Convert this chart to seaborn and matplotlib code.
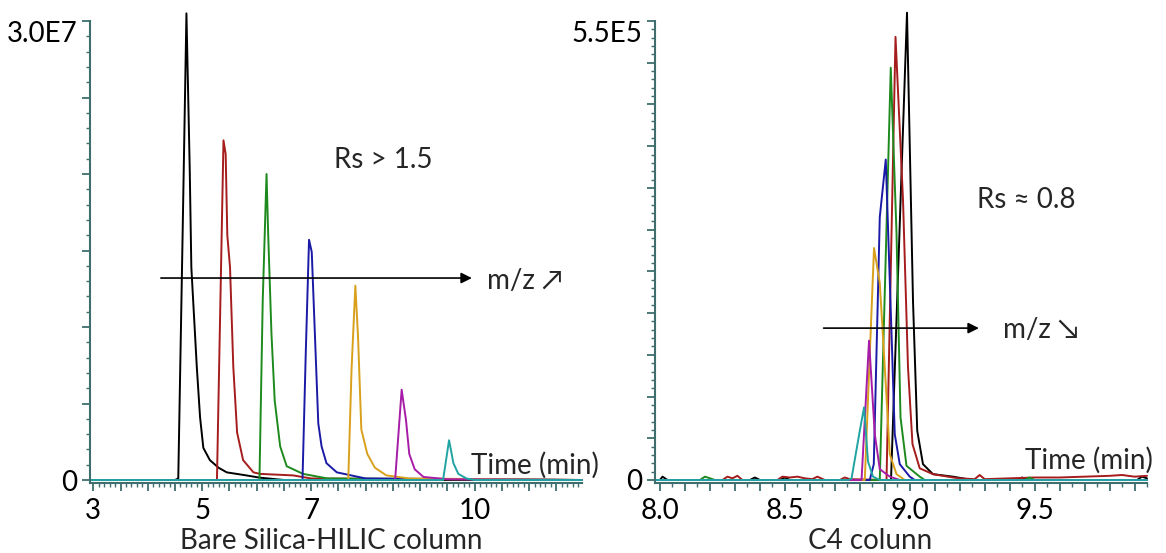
import matplotlib
matplotlib.use('Agg')
import matplotlib.pyplot as plt
import matplotlib.ticker as mticker
import pandas as pd
import seaborn as sns

# left panel: bare silica HILIC, intensity in units of 1E7
hilic_black_t = [2.94, 4.50, 4.56, 4.64, 4.71, 4.77, 4.80, 4.90, 4.96, 5.02, 5.14, 5.30, 5.45, 5.81, 6.06, 6.50, 11.97]
hilic_black_i = [0, 0, 0.01, 1.61, 3.05, 2.04, 1.39, 0.74, 0.41, 0.21, 0.13, 0.08, 0.05, 0.03, 0.015, 0, 0]
hilic_red_t = [2.94, 5.27, 5.39, 5.43, 5.46, 5.51, 5.57, 5.64, 5.75, 5.94, 6.06, 6.67, 7.0, 11.97]
hilic_red_i = [0, 0, 2.22, 2.13, 1.6, 1.39, 0.74, 0.31, 0.13, 0.05, 0.04, 0.03, 0.01, 0]
hilic_green_t = [2.94, 6.05, 6.11, 6.18, 6.21, 6.27, 6.33, 6.43, 6.55, 6.85, 7.3, 11.97]
hilic_green_i = [0, 0, 1.17, 2.0, 1.61, 0.96, 0.52, 0.22, 0.09, 0.04, 0.01, 0]
hilic_blue_t = [2.94, 6.84, 6.90, 6.96, 7.01, 7.07, 7.13, 7.19, 7.28, 7.47, 8.0, 11.97]
hilic_blue_i = [0, 0, 0.83, 1.57, 1.49, 0.93, 0.37, 0.22, 0.11, 0.05, 0.01, 0]
hilic_orange_t = [2.94, 7.68, 7.74, 7.81, 7.86, 7.92, 8.03, 8.17, 8.38, 8.8, 11.97]
hilic_orange_i = [0, 0, 0.72, 1.27, 0.93, 0.33, 0.17, 0.08, 0.03, 0.01, 0]
hilic_magenta_t = [2.94, 8.54, 8.66, 8.74, 8.80, 8.90, 9.06, 9.5, 11.97]
hilic_magenta_i = [0, 0, 0.59, 0.39, 0.17, 0.07, 0.02, 0.005, 0]
hilic_teal_t = [2.94, 9.42, 9.53, 9.61, 9.70, 9.85, 10.0, 11.97]
hilic_teal_i = [0, 0, 0.26, 0.11, 0.04, 0.01, 0, 0]

# right panel: C4 column, intensity in units of 1E5
c4_black_t = [7.98, 8.00, 8.01, 8.03, 8.36, 8.38, 8.40, 8.48, 8.50, 8.52, 8.925, 8.989, 9.013, 9.030, 9.053, 9.093, 9.173, 9.25, 9.43, 9.45, 9.47, 9.91, 9.93, 9.95]
c4_black_i = [0, 0, 0.04, 0, 0, 0.03, 0, 0, 0.03, 0, 0, 5.6, 2.15, 0.59, 0.19, 0.07, 0.04, 0, 0, 0.03, 0, 0, 0.04, 0.02]
c4_red_t = [7.98, 8.25, 8.27, 8.29, 8.31, 8.33, 8.47, 8.49, 8.52, 8.55, 8.58, 8.61, 8.63, 8.66, 8.72, 8.74, 8.76, 8.907, 8.943, 8.973, 8.993, 9.011, 9.040, 9.093, 9.173, 9.20, 9.26, 9.28, 9.30, 9.40, 9.50, 9.60, 9.70, 9.80, 9.85, 9.90, 9.95]
c4_red_i = [0, 0, 0.04, 0.02, 0.05, 0, 0, 0.04, 0.03, 0.04, 0.02, 0.01, 0.04, 0, 0, 0.03, 0.01, 0, 5.31, 3.36, 1.35, 0.43, 0.14, 0.07, 0.03, 0.02, 0.01, 0.06, 0.01, 0.02, 0.03, 0.03, 0.04, 0.05, 0.06, 0.04, 0.05]
c4_green_t = [7.98, 8.16, 8.18, 8.20, 8.22, 8.88, 8.924, 8.947, 8.963, 8.987, 9.040, 9.06, 9.46, 9.48, 9.50, 9.95]
c4_green_i = [0, 0, 0.04, 0.02, 0, 0, 4.94, 2.96, 0.75, 0.17, 0.04, 0, 0, 0.03, 0, 0]
c4_blue_t = [7.98, 8.840, 8.856, 8.873, 8.880, 8.904, 8.927, 8.940, 8.960, 9.000, 9.02, 9.95]
c4_blue_i = [0, 0, 0.19, 2.27, 3.15, 3.84, 1.76, 0.55, 0.19, 0.04, 0, 0]
c4_orange_t = [7.98, 8.820, 8.857, 8.880, 8.904, 8.920, 8.947, 8.98, 9.95]
c4_orange_i = [0, 0, 2.78, 2.36, 1.15, 0.31, 0.07, 0, 0]
c4_magenta_t = [7.98, 8.807, 8.837, 8.860, 8.880, 8.920, 8.96, 9.95]
c4_magenta_i = [0, 0, 1.67, 0.55, 0.13, 0.04, 0, 0]
c4_teal_t = [7.98, 8.755, 8.767, 8.800, 8.817, 8.833, 8.853, 8.88, 9.95]
c4_teal_i = [0, 0, 0.02, 0.59, 0.87, 0.22, 0.04, 0, 0]

trace_names = ['black', 'red', 'green', 'blue', 'orange', 'magenta', 'teal']
trace_colors = {'black': '#000000', 'red': '#a51c1c', 'green': '#1e8a1e', 'blue': '#1a1aa6',
                'orange': '#d8a01c', 'magenta': '#a61ca6', 'teal': '#1fa3a3'}

hilic = pd.concat([
    pd.DataFrame({'time': t, 'intensity': i, 'trace': n})
    for n, t, i in zip(trace_names,
                       [hilic_black_t, hilic_red_t, hilic_green_t, hilic_blue_t, hilic_orange_t, hilic_magenta_t, hilic_teal_t],
                       [hilic_black_i, hilic_red_i, hilic_green_i, hilic_blue_i, hilic_orange_i, hilic_magenta_i, hilic_teal_i])
])
c4 = pd.concat([
    pd.DataFrame({'time': t, 'intensity': i, 'trace': n})
    for n, t, i in zip(trace_names,
                       [c4_black_t, c4_red_t, c4_green_t, c4_blue_t, c4_orange_t, c4_magenta_t, c4_teal_t],
                       [c4_black_i, c4_red_i, c4_green_i, c4_blue_i, c4_orange_i, c4_magenta_i, c4_teal_i])
])

sns.set_style('white')
plt.rcParams['font.family'] = ['Lato', 'DejaVu Sans']
fs = 20
axis_col = '#3f6e6e'

fig = plt.figure(figsize=(11.66, 5.53), dpi=100)
ax1 = fig.add_axes([90 / 1166, 70 / 553, 492 / 1166, 462 / 553])
ax2 = fig.add_axes([655 / 1166, 70 / 553, 492 / 1166, 462 / 553])

for ax, df in [(ax1, hilic), (ax2, c4)]:
    sns.lineplot(data=df, x='time', y='intensity', hue='trace', hue_order=trace_names,
                 palette=trace_colors, estimator=None, sort=False, legend=False,
                 linewidth=1.4, ax=ax)
    for line in ax.lines:
        line.set_clip_on(False)
    sns.despine(ax=ax)
    for s in ['left', 'bottom']:
        ax.spines[s].set_color(axis_col)
        ax.spines[s].set_linewidth(1.5)
    ax.tick_params(which='both', bottom=True, left=True)
    ax.tick_params(which='major', direction='out', length=6, width=1.3, color=axis_col,
                   labelsize=fs, labelcolor='black', pad=3)
    ax.tick_params(which='minor', direction='out', length=3, width=1.0, color=axis_col)
    ax.tick_params(axis='x', which='major', pad=5)
    ax.set_ylabel('')

# left axes
ax1.set_xlim(2.94, 11.97)
ax1.set_ylim(-0.0196, 3.0)
ax1.xaxis.set_major_locator(mticker.MultipleLocator(0.5))
ax1.xaxis.set_minor_locator(mticker.MultipleLocator(0.1))
ax1.xaxis.set_major_formatter(mticker.FuncFormatter(
    lambda v, p: f'{v:.0f}' if round(v, 2) in (3, 5, 7, 10) else ''))
ax1.set_yticks([0, 0.5, 1.0, 1.5, 2.0, 2.5, 3.0], ['0', '', '', '', '', '', '3.0E7'])
ax1.yaxis.set_minor_locator(mticker.MultipleLocator(0.1))
ax1.set_xlabel('Bare Silica-HILIC column', fontsize=fs)
ax1.xaxis.set_label_coords(0.49, -0.098)

# right axes
ax2.set_xlim(7.98, 9.95)
ax2.set_ylim(-0.036, 5.5)
ax2.xaxis.set_major_locator(mticker.MultipleLocator(0.1))
ax2.xaxis.set_minor_locator(mticker.MultipleLocator(0.05))
ax2.xaxis.set_major_formatter(mticker.FuncFormatter(
    lambda v, p: f'{v:.1f}' if round(v * 10) % 5 == 0 else ''))
ax2.set_yticks([0, 0.5, 1, 1.5, 2, 2.5, 3, 3.5, 4, 4.5, 5, 5.5],
               ['0'] + [''] * 10 + ['5.5E5'])
ax2.yaxis.set_minor_locator(mticker.MultipleLocator(0.1))
ax2.set_xlabel('C4 colunn', fontsize=fs)
ax2.xaxis.set_label_coords(0.437, -0.098)

for ax in (ax1, ax2):
    ax.get_yticklabels()[-1].set_verticalalignment('top')

# annotations
ax1.text(7.42, 2.09, 'Rs > 1.5', fontsize=fs, va='center', ha='left')
ax1.annotate('', xy=(10.0, 1.32), xytext=(4.19, 1.32),
             arrowprops=dict(arrowstyle='-|>', color='black', lw=1.2, mutation_scale=16))
ax1.text(10.22, 1.30, 'm/z ↗', fontsize=fs, va='center', ha='left')
ax1.text(9.93, 0.098, 'Time (min)', fontsize=fs, va='center', ha='left')

ax2.text(9.268, 3.35, 'Rs ≈ 0.8', fontsize=fs, va='center', ha='left')
ax2.annotate('', xy=(9.288, 1.82), xytext=(8.644, 1.82),
             arrowprops=dict(arrowstyle='-|>', color='black', lw=1.2, mutation_scale=16))
ax2.text(9.372, 1.80, 'm/z ↘', fontsize=fs, va='center', ha='left')
ax2.text(9.46, 0.24, 'Time (min)', fontsize=fs, va='center', ha='left')

fig.savefig('out.png', dpi=100)
